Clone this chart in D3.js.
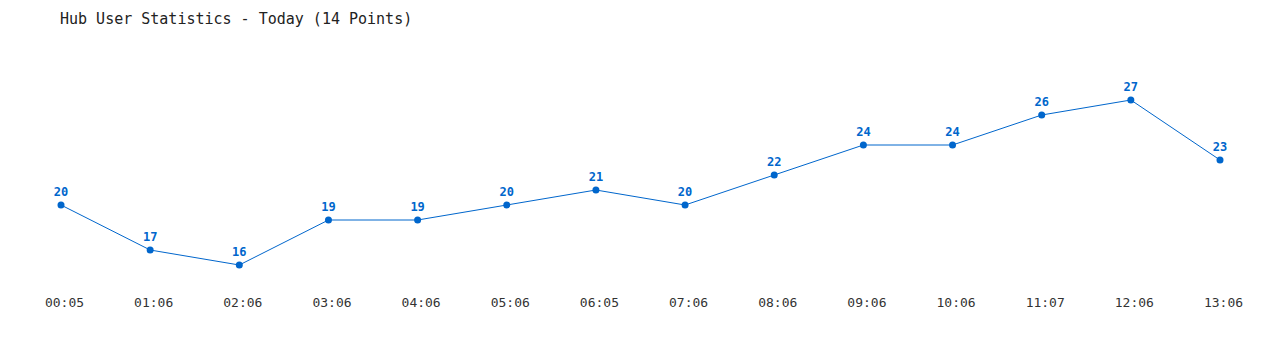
<!DOCTYPE html>
<html>
<head>
<meta charset="utf-8">
<script src="https://cdn.jsdelivr.net/npm/d3@7"></script>
<style>
  body { margin: 0; background: #fff; }
</style>
</head>
<body>
<div class="canvas"></div>
<script>
const times = ['00:05', '01:06', '02:06', '03:06', '04:06', '05:06', '06:05',
               '07:06', '08:06', '09:06', '10:06', '11:07', '12:06', '13:06'];
const users = [20, 17, 16, 19, 19, 20, 21, 20, 22, 24, 24, 26, 27, 23];
const title = 'Hub User Statistics - Today (14 Points)';

const font = '"DejaVu Sans Mono", "Liberation Mono", monospace';
const blue = '#0066cc';

const svg = d3.select('.canvas').append('svg')
    .attr('width', 1280)
    .attr('height', 350);

// title
svg.append('text')
    .attr('x', 60)
    .attr('y', 24)
    .attr('fill', '#222')
    .style('font-family', font)
    .style('font-size', '15px')
    .text(title);

const x = d3.scalePoint().domain(times).range([61, 1220]);
const y = d3.scaleLinear().domain([15, 28]).range([280, 85]);

// time labels along the bottom
const xAxis = svg.append('g')
    .attr('transform', 'translate(3, 298)')
    .call(d3.axisBottom(x).tickSize(0).tickPadding(0));
xAxis.select('.domain').remove();
xAxis.selectAll('text')
    .attr('dy', '0.71em')
    .attr('fill', '#333')
    .style('font-family', font)
    .style('font-size', '13px');

const pts = times.map((t, i) => ({ t: t, v: users[i] }));

svg.append('path')
    .datum(pts)
    .attr('fill', 'none')
    .attr('stroke', blue)
    .attr('stroke-width', 1)
    .attr('d', d3.line().x(d => x(d.t)).y(d => y(d.v)));

svg.selectAll('circle.pt')
    .data(pts)
    .join('circle')
    .attr('class', 'pt')
    .attr('cx', d => x(d.t))
    .attr('cy', d => y(d.v))
    .attr('r', 3.5)
    .attr('fill', blue);

svg.selectAll('text.val')
    .data(pts)
    .join('text')
    .attr('class', 'val')
    .attr('x', d => x(d.t))
    .attr('y', d => y(d.v) - 9)
    .attr('text-anchor', 'middle')
    .attr('fill', blue)
    .style('font-family', font)
    .style('font-size', '12px')
    .style('font-weight', 'bold')
    .text(d => d.v);
</script>
</body>
</html>
